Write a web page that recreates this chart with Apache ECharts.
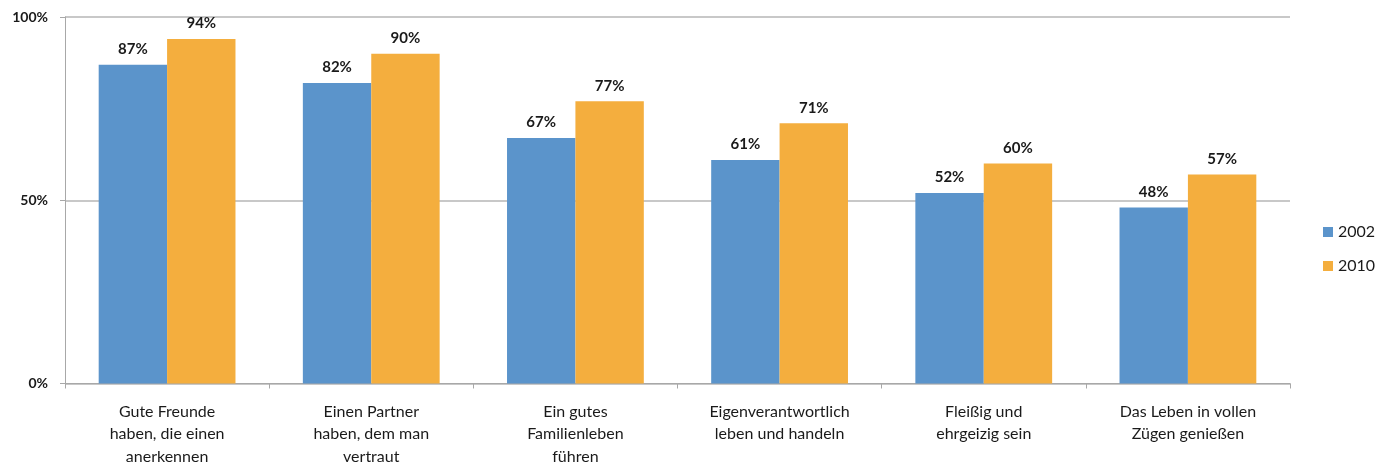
<!DOCTYPE html>
<html>
<head>
<meta charset="utf-8">
<script src="https://cdn.jsdelivr.net/npm/echarts@6/dist/echarts.min.js"></script>
<style>
  html, body { margin: 0; padding: 0; background: #fff; }
  #chart { width: 1387px; height: 468px; }
</style>
</head>
<body>
<div id="chart"></div>
<script>
const categories = [
  'Gute Freunde\nhaben, die einen\nanerkennen',
  'Einen Partner\nhaben, dem man\nvertraut',
  'Ein gutes\nFamilienleben\nführen',
  'Eigenverantwortlich\nleben und handeln',
  'Fleißig und\nehrgeizig sein',
  'Das Leben in vollen\nZügen genießen'
]
const values2002 = [87, 82, 67, 61, 52, 48]
const values2010 = [94, 90, 77, 71, 60, 57]

const fontFamily = 'Lato, "Open Sans", sans-serif'

const chart = echarts.init(document.getElementById('chart'))

const labelStyle = {
  show: true,
  position: 'top',
  distance: 8,
  formatter: '{c}%',
  color: '#1a1a1a',
  fontSize: 15,
  fontWeight: 'bold',
  fontFamily
}

const option = {
  animation: false,
  textStyle: { fontFamily },
  grid: {
    left: 65,
    right: 97,
    top: 17,
    bottom: 83
  },
  legend: {
    orient: 'vertical',
    left: 1318,
    top: 219,
    itemWidth: 10,
    itemHeight: 10,
    itemGap: 18,
    icon: 'rect',
    textStyle: { color: '#1a1a1a', fontSize: 16, fontFamily },
    data: ['2002', '2010']
  },
  xAxis: {
    type: 'category',
    data: categories,
    axisLine: { lineStyle: { color: '#a8a8a8', width: 1 } },
    axisTick: { show: true, length: 5, lineStyle: { color: '#a8a8a8' } },
    axisLabel: {
      color: '#1a1a1a',
      fontSize: 16,
      lineHeight: 22.5,
      margin: 17,
      fontFamily,
      interval: 0
    }
  },
  yAxis: {
    type: 'value',
    min: 0,
    max: 100,
    interval: 50,
    axisLine: { show: true, lineStyle: { color: '#a8a8a8' } },
    axisTick: { show: true, length: 5, lineStyle: { color: '#a8a8a8' } },
    axisLabel: {
      formatter: '{value}%',
      color: '#1a1a1a',
      fontSize: 14,
      fontWeight: 'bold',
      margin: 17,
      fontFamily
    },
    splitLine: { lineStyle: { color: '#c8c8c8', width: 2 } }
  },
  series: [
    {
      name: '2002',
      type: 'bar',
      data: values2002,
      barGap: '0%',
      barCategoryGap: '33%',
      itemStyle: { color: '#5b94cb' },
      label: labelStyle
    },
    {
      name: '2010',
      type: 'bar',
      data: values2010,
      barGap: '0%',
      barCategoryGap: '33%',
      itemStyle: { color: '#f4ae3e' },
      label: labelStyle
    }
  ]
}

chart.setOption(option)
</script>
</body>
</html>
